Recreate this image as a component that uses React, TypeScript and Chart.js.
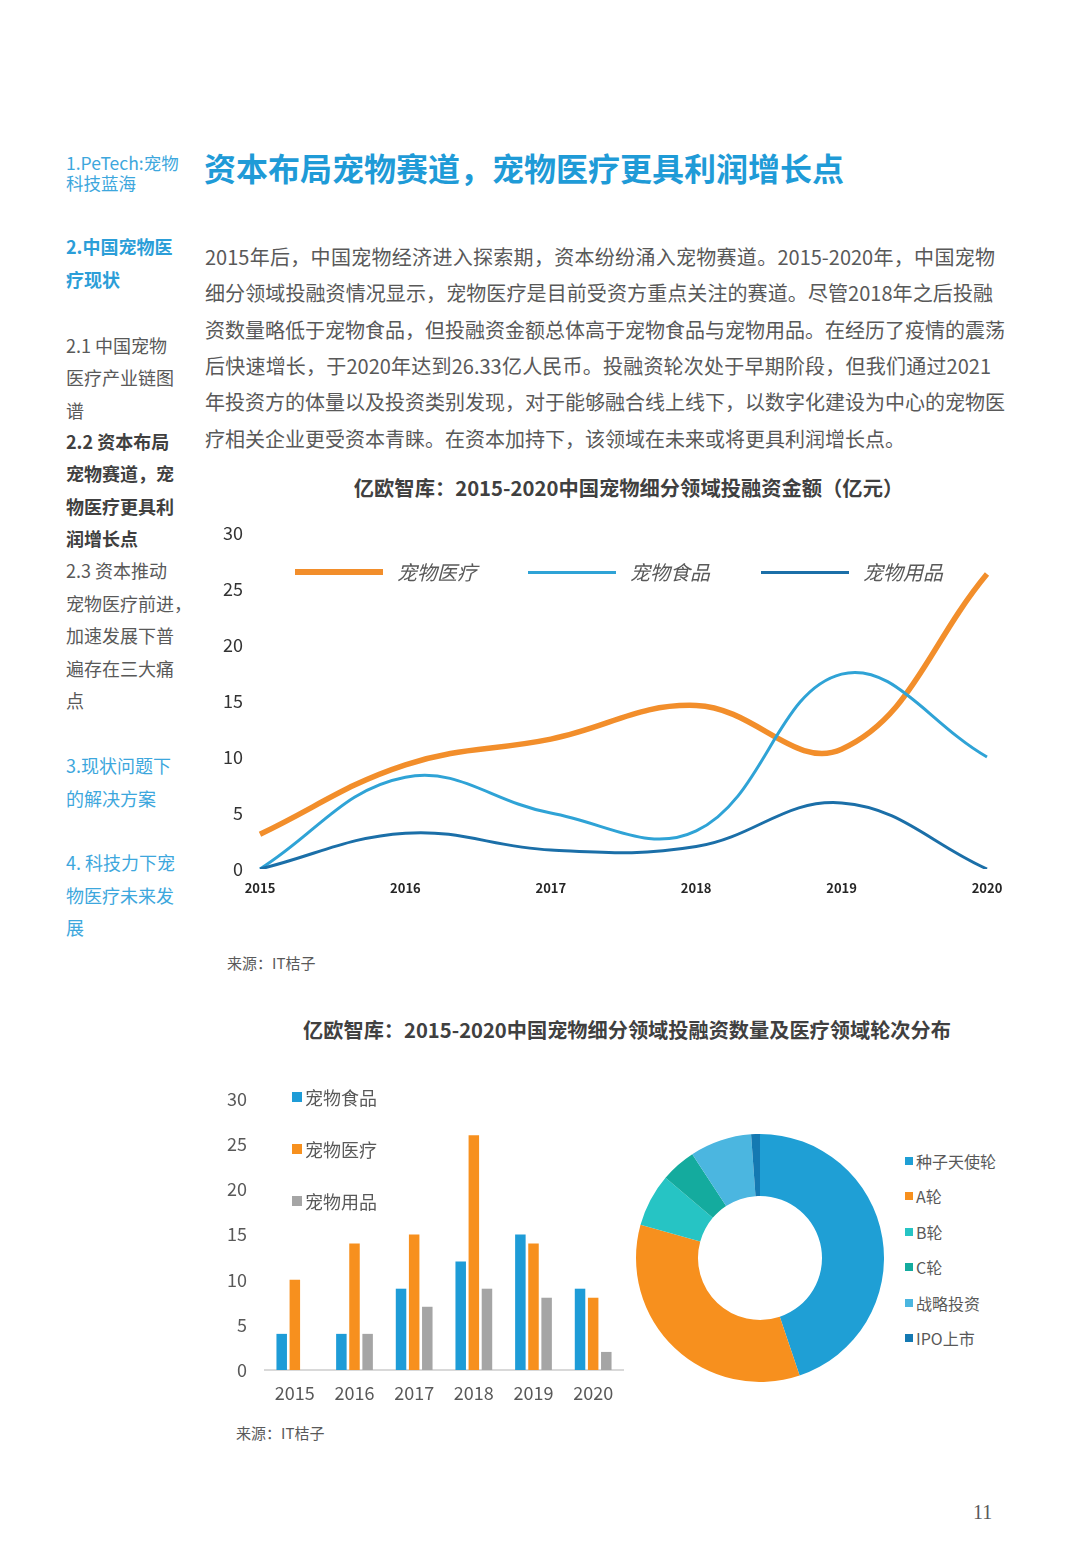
import React, { useEffect, useRef } from "react";
import { Chart, registerables } from "chart.js";
Chart.register(...registerables);

const years = ["2015", "2016", "2017", "2018", "2019", "2020"];
const amountMedical = [3.1, 9.3, 11.6, 14.6, 10.7, 26.33];
const amountFood = [0, 8.2, 5.0, 3.4, 17.4, 10.0];
const amountSupplies = [0, 3.2, 1.7, 2.0, 5.9, 0];
const lineSeriesNames = ["宠物医疗", "宠物食品", "宠物用品"];

const countFood = [4, 4, 9, 12, 15, 9];
const countMedical = [10, 14, 15, 26, 14, 8];
const countSupplies = [0, 4, 7, 9, 8, 2];
const barSeriesNames = ["宠物食品", "宠物医疗", "宠物用品"];

const roundLabels = ["种子天使轮", "A轮", "B轮", "C轮", "战略投资", "IPO上市"];
const roundCounts = [39, 30, 6, 4, 7, 1];

const FONT = "'Noto Sans CJK SC', 'Noto Sans', sans-serif";
const ORANGE = "#F28E2B";
const LIGHT_BLUE = "#2FA3D6";
const DARK_BLUE = "#1B6FA8";
const BAR_BLUE = "#1E9CD7";
const BAR_ORANGE = "#F7901E";
const BAR_GRAY = "#A5A5A5";
const ROUND_COLORS = ["#1F9FD5", "#F7901E", "#26C4C4", "#14AB9E", "#4BB6E0", "#1479B2"];

const paragraph = [
  "2015年后，中国宠物经济进入探索期，资本纷纷涌入宠物赛道。2015-2020年，中国宠物",
  "细分领域投融资情况显示，宠物医疗是目前受资方重点关注的赛道。尽管2018年之后投融",
  "资数量略低于宠物食品，但投融资金额总体高于宠物食品与宠物用品。在经历了疫情的震荡",
  "后快速增长，于2020年达到26.33亿人民币。投融资轮次处于早期阶段，但我们通过2021",
  "年投资方的体量以及投资类别发现，对于能够融合线上线下，以数字化建设为中心的宠物医",
  "疗相关企业更受资本青睐。在资本加持下，该领域在未来或将更具利润增长点。",
];
const paragraphWidths = [790, 788, 800, 786, 800, 0];

const LineChart = () => {
  const ref = useRef<HTMLCanvasElement>(null);
  useEffect(() => {
    const chart = new Chart(ref.current!, {
      type: "line",
      data: {
        labels: years,
        datasets: [
          { label: lineSeriesNames[1], data: amountFood, borderColor: LIGHT_BLUE, borderWidth: 3, tension: 0.4, pointRadius: 0, fill: false, order: 1 },
          { label: lineSeriesNames[2], data: amountSupplies, borderColor: DARK_BLUE, borderWidth: 3, tension: 0.4, pointRadius: 0, fill: false, order: 0 },
          { label: lineSeriesNames[0], data: amountMedical, borderColor: ORANGE, borderWidth: 5.5, tension: 0.4, pointRadius: 0, fill: false, order: 2 },
        ],
      },
      options: {
        animation: false,
        responsive: false,
        maintainAspectRatio: false,
        layout: { padding: { top: 18, right: 23, bottom: 0, left: 0 } },
        plugins: { legend: { display: false }, tooltip: { enabled: false } },
        scales: {
          x: {
            offset: false,
            grid: { display: false, drawTicks: false },
            border: { display: false },
            ticks: { color: "#262626", font: { family: FONT, size: 13, weight: "bold" }, padding: 11, maxRotation: 0 },
            afterFit: (s: any) => { s.height = 41; s.paddingLeft = 0; s.paddingRight = 0; },
          },
          y: {
            min: 0,
            max: 30,
            grid: { display: false, drawTicks: false },
            border: { display: false },
            ticks: { stepSize: 5, color: "#333333", font: { family: FONT, size: 18 }, padding: 17 },
            afterFit: (s: any) => { s.width = 60; s.paddingTop = 0; s.paddingBottom = 0; },
          },
        },
      },
    });
    return () => chart.destroy();
  }, []);
  return <canvas ref={ref} width={810} height={395} style={{ width: 810, height: 395 }} />;
};

const BarChart = () => {
  const ref = useRef<HTMLCanvasElement>(null);
  useEffect(() => {
    const chart = new Chart(ref.current!, {
      type: "bar",
      data: {
        labels: years,
        datasets: [
          { label: barSeriesNames[0], data: countFood, backgroundColor: BAR_BLUE, categoryPercentage: 0.66, barPercentage: 0.8 },
          { label: barSeriesNames[1], data: countMedical, backgroundColor: BAR_ORANGE, categoryPercentage: 0.66, barPercentage: 0.8 },
          { label: barSeriesNames[2], data: countSupplies, backgroundColor: BAR_GRAY, categoryPercentage: 0.66, barPercentage: 0.8 },
        ],
      },
      options: {
        animation: false,
        responsive: false,
        maintainAspectRatio: false,
        layout: { padding: { top: 14, right: 12, bottom: 0, left: 0 } },
        plugins: { legend: { display: false }, tooltip: { enabled: false } },
        scales: {
          x: {
            grid: { display: false, drawTicks: false },
            border: { display: true, color: "#D9D9D9", width: 2 },
            ticks: { color: "#595959", font: { family: FONT, size: 18 }, padding: 12, maxRotation: 0 },
            afterFit: (s: any) => { s.height = 45; s.paddingLeft = 0; s.paddingRight = 0; },
          },
          y: {
            min: 0,
            max: 30,
            grid: { display: false, drawTicks: false },
            border: { display: false },
            ticks: { stepSize: 5, color: "#595959", font: { family: FONT, size: 18 }, padding: 18 },
            afterFit: (s: any) => { s.width = 50; s.paddingTop = 0; s.paddingBottom = 0; },
          },
        },
      },
    });
    return () => chart.destroy();
  }, []);
  return <canvas ref={ref} width={420} height={330} style={{ width: 420, height: 330 }} />;
};

const DonutChart = () => {
  const ref = useRef<HTMLCanvasElement>(null);
  useEffect(() => {
    const chart = new Chart(ref.current!, {
      type: "doughnut",
      data: {
        labels: roundLabels,
        datasets: [{ data: roundCounts, backgroundColor: ROUND_COLORS, borderWidth: 0 }],
      },
      options: {
        animation: false,
        responsive: false,
        maintainAspectRatio: false,
        cutout: "50%",
        layout: { padding: 0 },
        plugins: { legend: { display: false }, tooltip: { enabled: false } },
      },
    });
    return () => chart.destroy();
  }, []);
  return <canvas ref={ref} width={248} height={248} style={{ width: 248, height: 248 }} />;
};

const abs = (left: number, top: number, extra: React.CSSProperties = {}): React.CSSProperties => ({
  position: "absolute",
  left,
  top,
  ...extra,
});

const sideBlue = "#3DA7DD";
const sideGray = "#595959";

const sideItems: { lines: string[]; top: number; color: string; bold?: boolean; lh: number; size: number }[] = [
  { lines: ["1.PeTech:宠物", "科技蓝海"], top: 153, color: sideBlue, lh: 20, size: 17.5 },
  { lines: ["2.中国宠物医", "疗现状"], top: 230, color: "#2B9ED8", bold: true, lh: 32.5, size: 18 },
  { lines: ["2.1 中国宠物", "医疗产业链图", "谱"], top: 329, color: sideGray, lh: 32.3, size: 18 },
  { lines: ["2.2 资本布局", "宠物赛道，宠", "物医疗更具利", "润增长点"], top: 425, color: "#404040", bold: true, lh: 32.3, size: 18 },
  { lines: ["2.3 资本推动", "宠物医疗前进，", "加速发展下普", "遍存在三大痛", "点"], top: 554, color: sideGray, lh: 32.5, size: 18 },
  { lines: ["3.现状问题下", "的解决方案"], top: 749, color: sideBlue, lh: 32.5, size: 18 },
  { lines: ["4. 科技力下宠", "物医疗未来发", "展"], top: 846, color: sideBlue, lh: 32.5, size: 18 },
];

export default function App() {
  const lineLegend = [
    { name: lineSeriesNames[0], color: ORANGE, w: 5.5, x: 295 },
    { name: lineSeriesNames[1], color: LIGHT_BLUE, w: 3, x: 528 },
    { name: lineSeriesNames[2], color: DARK_BLUE, w: 3, x: 761 },
  ];
  const barLegend = [
    { name: barSeriesNames[0], color: BAR_BLUE, y: 1097 },
    { name: barSeriesNames[1], color: BAR_ORANGE, y: 1149 },
    { name: barSeriesNames[2], color: BAR_GRAY, y: 1201 },
  ];
  return (
    <div style={{ position: "absolute", left: 0, top: 0, width: 1080, height: 1560, background: "#fff", fontFamily: FONT, overflow: "hidden" }}>
      {sideItems.map((it, i) => (
        <div key={i} style={abs(66, it.top, { color: it.color, fontWeight: it.bold ? 700 : 400, fontSize: it.size, lineHeight: `${it.lh}px`, whiteSpace: "nowrap" })}>
          {it.lines.map((l, j) => (
            <div key={j}>{l}</div>
          ))}
        </div>
      ))}

      <div style={abs(204, 145, { color: "#1F9BD7", fontWeight: 700, fontSize: 32, lineHeight: "44px", whiteSpace: "nowrap" })}>
        资本布局宠物赛道，宠物医疗更具利润增长点
      </div>

      {paragraph.map((l, i) => (
        <div
          key={i}
          style={abs(205, 242 + i * 36.3, {
            color: "#595959",
            fontSize: 20,
            lineHeight: "30px",
            whiteSpace: "nowrap",
            width: paragraphWidths[i] || undefined,
            textAlign: paragraphWidths[i] ? "justify" : "left",
            textAlignLast: paragraphWidths[i] ? "justify" : "auto",
          } as React.CSSProperties)}
        >
          {l}
        </div>
      ))}

      <div style={abs(0, 473, { width: 1257, textAlign: "center", color: "#404040", fontWeight: 700, fontSize: 20.3, lineHeight: "28px", whiteSpace: "nowrap" })}>
        亿欧智库：2015-2020中国宠物细分领域投融资金额（亿元）
      </div>

      <div style={abs(200, 515)}>
        <LineChart />
      </div>

      {lineLegend.map((it, i) => (
        <div key={i} style={abs(it.x, 558, { display: "flex", alignItems: "center", height: 28 })}>
          <div style={{ width: 88, height: it.w, background: it.color }} />
          <div style={{ marginLeft: 14, fontStyle: "italic", color: "#595959", fontSize: 20, lineHeight: "28px", whiteSpace: "nowrap" }}>{it.name}</div>
        </div>
      ))}

      <div style={abs(227, 952, { color: "#595959", fontSize: 15, lineHeight: "22px", whiteSpace: "nowrap" })}>来源：IT桔子</div>

      <div style={abs(0, 1016, { width: 1254, textAlign: "center", color: "#404040", fontWeight: 700, fontSize: 20.2, lineHeight: "28px", whiteSpace: "nowrap" })}>
        亿欧智库：2015-2020中国宠物细分领域投融资数量及医疗领域轮次分布
      </div>

      <div style={abs(215, 1085)}>
        <BarChart />
      </div>

      {barLegend.map((it, i) => (
        <div key={i} style={abs(292, it.y - 14, { display: "flex", alignItems: "center", height: 28 })}>
          <div style={{ width: 10, height: 10, background: it.color }} />
          <div style={{ marginLeft: 3, color: "#595959", fontSize: 18, lineHeight: "28px", whiteSpace: "nowrap" }}>{it.name}</div>
        </div>
      ))}

      <div style={abs(636, 1134)}>
        <DonutChart />
      </div>

      {roundLabels.map((name, i) => (
        <div key={i} style={abs(905, 1161 + i * 35.4 - 12, { display: "flex", alignItems: "center", height: 24 })}>
          <div style={{ width: 8, height: 8, background: ROUND_COLORS[i] }} />
          <div style={{ marginLeft: 3, color: "#595959", fontSize: 16, lineHeight: "24px", whiteSpace: "nowrap" }}>{name}</div>
        </div>
      ))}

      <div style={abs(236, 1422, { color: "#595959", fontSize: 15, lineHeight: "22px", whiteSpace: "nowrap" })}>来源：IT桔子</div>

      <div style={abs(973, 1499, { color: "#595959", fontSize: 20, lineHeight: "26px", fontFamily: "'Liberation Serif', serif" })}>11</div>
    </div>
  );
}
